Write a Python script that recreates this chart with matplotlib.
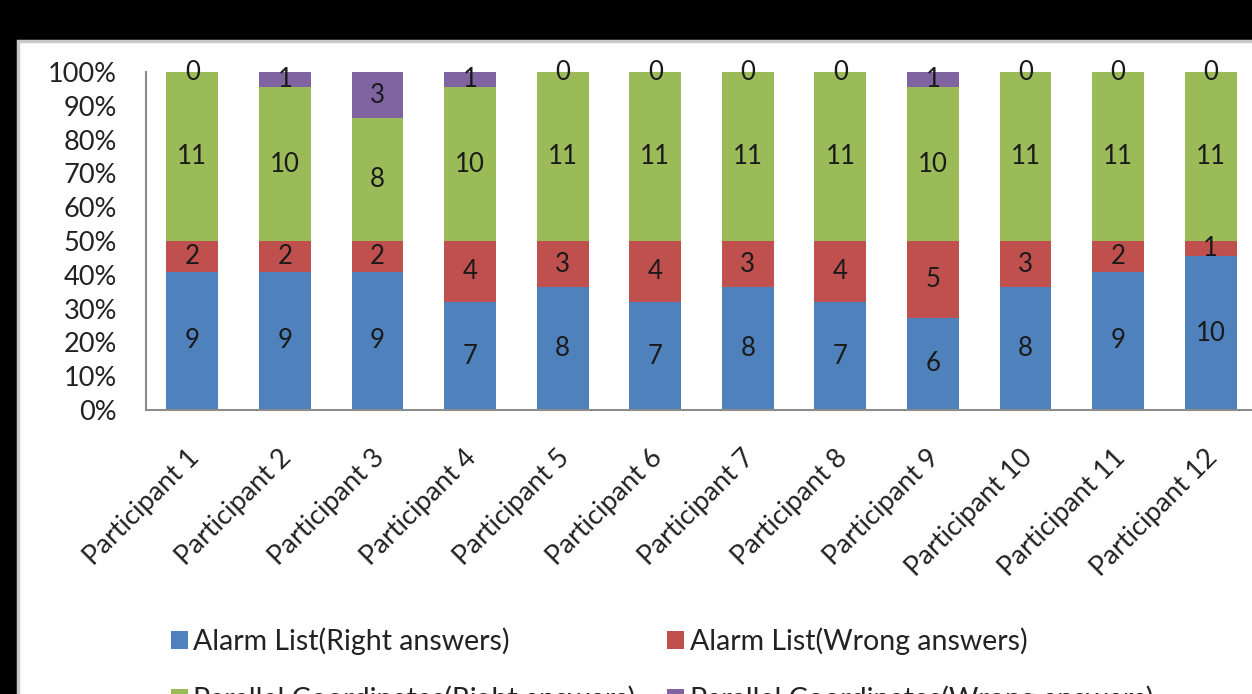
import numpy as np
import matplotlib.pyplot as plt
from matplotlib.patches import Rectangle
from matplotlib.ticker import PercentFormatter
from matplotlib.transforms import ScaledTranslation

plt.rcParams['font.family'] = ['Lato', 'DejaVu Sans']

participants = ['Participant %d' % i for i in range(1, 13)]
alarm_right = [9, 9, 9, 7, 8, 7, 8, 7, 6, 8, 9, 10]
alarm_wrong = [2, 2, 2, 4, 3, 4, 3, 4, 5, 3, 2, 1]
parallel_right = [11, 10, 8, 10, 11, 11, 11, 11, 10, 11, 11, 11]
parallel_wrong = [0, 1, 3, 1, 0, 0, 0, 0, 1, 0, 0, 0]

series = [
    ('Alarm List(Right answers)', alarm_right, '#4F81BD'),
    ('Alarm List(Wrong answers)', alarm_wrong, '#C0504D'),
    ('Parallel Coordinates(Right answers)', parallel_right, '#9BBB59'),
    ('Parallel Coordinates(Wrong answers)', parallel_wrong, '#8064A2'),
]

W, H = 1252, 694
fig = plt.figure(figsize=(W / 100, H / 100), dpi=100)
fig.patch.set_facecolor('black')

# white chart sheet with a light frame, running off the right and bottom edges
sheet = Rectangle((18 / W, -0.1), 1.2, (H - 41) / H + 0.1, transform=fig.transFigure,
                  facecolor='white', edgecolor='#c8c8c8', linewidth=2.5, zorder=-5)
fig.patches.append(sheet)

ax = fig.add_axes([146 / W, (H - 410) / H, (1257 - 146) / W, (410 - 72) / H])
ax.set_facecolor('none')

totals = np.sum([s[1] for s in series], axis=0)
x = np.arange(len(participants))
bottom = np.zeros(len(participants))
handles = {}
for name, vals, color in series:
    vals = np.array(vals)
    frac = vals / totals * 100
    bars = ax.bar(x, frac, 0.56, bottom=bottom, color=color, label=name)
    ax.bar_label(bars, labels=[str(v) for v in vals], label_type='center',
                 fontsize=18.5, color='#1a1a1a')
    handles[name] = bars
    bottom += frac

ax.set_xlim(-0.5, len(participants) - 0.5)
ax.set_ylim(0, 100)
ax.set_yticks(np.arange(0, 101, 10))
ax.yaxis.set_major_formatter(PercentFormatter(decimals=0))
ax.set_xticks(x)
ax.set_xticklabels(participants, rotation=45, ha='right', va='top',
                   rotation_mode='anchor')
ax.tick_params(axis='both', length=0, colors='#222222')
ax.tick_params(axis='x', pad=25, labelsize=19.5)
ax.tick_params(axis='y', pad=21, labelsize=19.5)
# nudge rotated category names a little to the left
shift = ScaledTranslation(-6 / 100, 0, fig.dpi_scale_trans)
for lbl in ax.get_xticklabels():
    lbl.set_transform(lbl.get_transform() + shift)
for side in ['top', 'right']:
    ax.spines[side].set_visible(False)
for side in ['left', 'bottom']:
    ax.spines[side].set_color('#8c8c8c')
    ax.spines[side].set_linewidth(1.5)

order = [series[0][0], series[2][0], series[1][0], series[3][0]]
fig.legend([handles[n] for n in order], order, ncol=2, frameon=False,
           loc='upper left', bbox_to_anchor=(145 / W, (H - 602) / H),
           fontsize=20.5, handlelength=0.6, handleheight=0.6, handletextpad=0.2,
           columnspacing=1.1, labelspacing=1.05, labelcolor='#222222')

fig.savefig('out.png', dpi=100, facecolor=fig.get_facecolor())
